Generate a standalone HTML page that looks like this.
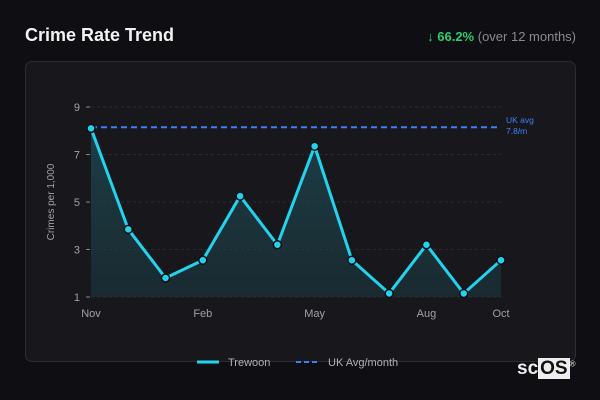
<!DOCTYPE html>
<html><head><meta charset="utf-8"><style>
body{margin:0;width:600px;height:400px;background:#0e0e13;font-family:"Liberation Sans",sans-serif;overflow:hidden;position:relative}
#title{position:absolute;left:25px;top:25px;font-size:18px;font-weight:bold;color:#f2f2f2}
#change{position:absolute;right:24px;top:29px;font-size:13px;color:#8a8a92}
#change b{color:#2ecc71}
#card{position:absolute;left:25px;top:61px;width:549px;height:299px;border:1px solid #2c2c33;border-radius:7px;background:#17171c}
svg{position:absolute;left:0;top:0}
#wm{position:absolute;left:517px;top:358px;font-size:19px;font-weight:bold;color:#eee}
#wm span{background:#eee;color:#111;padding:0 2px}
</style></head><body>
<div id="title">Crime Rate Trend</div>
<div id="change"><b>↓ 66.2%</b> (over 12 months)</div>
<div id="card"></div>
<svg id="chart" width="600" height="400"></svg>
<div id="wm">sc<span>OS</span><sup style="font-size:8px;font-weight:normal">®</sup></div>
<script>
const months=["Nov","Dec","Jan","Feb","Mar","Apr","May","Jun","Jul","Aug","Sep","Oct"];
const values=[8.1,3.85,1.8,2.55,5.25,3.2,7.35,2.55,1.15,3.2,1.15,2.55];
const yTicks=[1,3,5,7,9];
const xTickLabels=["Nov","Feb","May","Aug","Oct"];
const ukAvgLine=8.15;
const ukAvgLabel=["UK avg","7.8/m"];
const NS="http://www.w3.org/2000/svg";
const svg=document.getElementById('chart');
const X0=91,X1=501,Y0=297,Y1=107;
const x=i=>X0+(X1-X0)*i/(months.length-1);
const y=v=>Y0-(v-1)/(9-1)*(Y0-Y1);
function mk(t,a){const e=document.createElementNS(NS,t);for(const k in a)e.setAttribute(k,a[k]);svg.appendChild(e);return e;}
const defs=mk('defs',{});
defs.innerHTML='<linearGradient id="g" x1="0" y1="0" x2="0" y2="1"><stop offset="0" stop-color="#1f4b55" stop-opacity="0.75"/><stop offset="1" stop-color="#1c3a42" stop-opacity="0.55"/></linearGradient>';
yTicks.forEach(t=>{
  const g=mk('line',{x1:X0,x2:X1,y1:y(t),y2:y(t),stroke:'#2c2c30','stroke-dasharray':'3 3'});
  
  const tk=mk('line',{x1:X0-5,x2:X0-1,y1:y(t),y2:y(t),stroke:'#888'});
  
  const l=mk('text',{x:X0-11,y:y(t)+4,'text-anchor':'end','font-size':11,fill:'#a0a0a6'});
  l.textContent=t;
});
xTickLabels.forEach(m=>{
  const i=months.indexOf(m);
  const l=mk('text',{x:x(i),y:317,'text-anchor':'middle','font-size':11,fill:'#a0a0a6'});
  l.textContent=m;
});
const yt=mk('text',{x:0,y:0,transform:'translate(54,202) rotate(-90)','text-anchor':'middle','font-size':10,fill:'#a0a0a6'});
yt.textContent='Crimes per 1,000';
let pts=values.map((v,i)=>x(i)+','+y(v)).join(' ');
const area=mk('polygon',{points:x(0)+','+Y0+' '+pts+' '+x(values.length-1)+','+Y0,fill:'url(#g)'});

const ua=mk('line',{x1:X0,x2:X1,y1:y(ukAvgLine),y2:y(ukAvgLine),stroke:'#3b82f6','stroke-width':2,'stroke-dasharray':'6 4'});

ukAvgLabel.forEach((s,k)=>{const t=mk('text',{x:506,y:y(ukAvgLine)-4+k*11,'font-size':8.5,fill:'#3b82f6'});t.textContent=s;
});
const line=mk('polyline',{points:pts,fill:'none',stroke:'#22d3ee','stroke-width':3,'stroke-linejoin':'miter'});

values.forEach((v,i)=>{const c=mk('circle',{cx:x(i),cy:y(v),r:4,fill:'#22d3ee',stroke:'#0e0e13','stroke-width':1.5});
});
const l1=mk('line',{x1:197,x2:219,y1:362,y2:362,stroke:'#22d3ee','stroke-width':3});

const t1=mk('text',{x:228,y:366,'font-size':11,fill:'#b0b0b6'});t1.textContent='Trewoon';

const l2=mk('line',{x1:296,x2:320,y1:362,y2:362,stroke:'#3b82f6','stroke-width':2,'stroke-dasharray':'5 3'});

const t2=mk('text',{x:328,y:366,'font-size':11,fill:'#b0b0b6'});t2.textContent='UK Avg/month';

</script>
</body></html>
